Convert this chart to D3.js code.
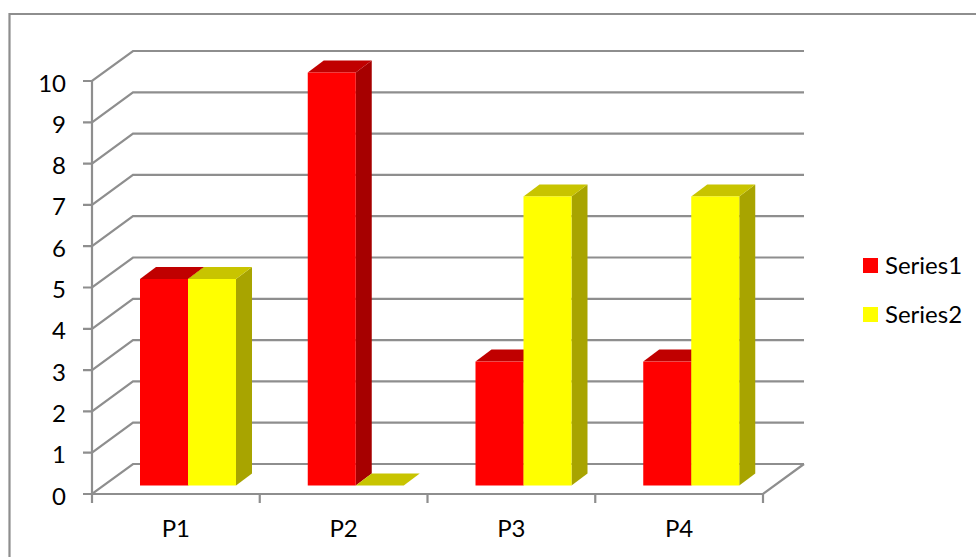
<!DOCTYPE html>
<html><head><meta charset="utf-8">
<script src="https://cdn.jsdelivr.net/npm/d3@7"></script>
<style>html,body{margin:0;padding:0;background:#fff}svg{display:block}text{font-family:Lato,"Open Sans",sans-serif;fill:#000}</style>
</head><body><svg id="c" width="976" height="557"></svg>
<script>
const categories=["P1","P2","P3","P4"];
const series1=[5,10,3,3];
const series2=[5,0,7,7];
const yTicks=[0,1,2,3,4,5,6,7,8,9,10];
const seriesNames=["Series1","Series2"];
const seriesColors=[{front:"#ff0000",top:"#c00000",side:"#a60000"},{front:"#ffff00",top:"#c8c400",side:"#a8a400"}];

const svg=d3.select("#c");
const grey="#8e8e8e";
const x=d3.scaleBand().domain(categories).range([92,763]);
const y=d3.scaleLinear().domain([0,10]).range([494,81]);
const wallDx=41,wallDy=-30;
const barW=48,barOffset=48,barDx=16,barDy=-12,baseShift=-8.5;
const poly=p=>p.map(d=>d.join(",")).join(" ");

// chart frame
svg.append("path").attr("d","M9.5,560V14H980").attr("fill","none").attr("stroke",grey).attr("stroke-width",2.2);

// walls and gridlines
const g=svg.append("g").attr("fill","none").attr("stroke",grey).attr("stroke-width",2.2);
yTicks.forEach(t=>{
  g.append("polyline").attr("points",poly([[83,y(t)],[92,y(t)],[92+wallDx,y(t)+wallDy],[804,y(t)+wallDy]]));
});
g.append("line").attr("x1",92).attr("x2",92).attr("y1",y(10)).attr("y2",y(0));
g.append("polyline").attr("points",poly([[92,y(0)],[763,y(0)],[804,y(0)+wallDy]]));
[...categories.map(c=>x(c)),x.range()[1]].forEach(v=>{
  g.append("line").attr("x1",v).attr("x2",v).attr("y1",y(0)).attr("y2",y(0)+9);
});

// bars
[series1,series2].forEach((vals,s)=>{
  const col=seriesColors[s];
  vals.forEach((v,i)=>{
    const x0=x(categories[i])+barOffset+s*barW, x1=x0+barW;
    const yb=y(0)+baseShift, yt=y(v)+baseShift;
    const b=svg.append("g");
    b.append("polygon").attr("fill",col.side).attr("points",poly([[x1,yb],[x1+barDx,yb+barDy],[x1+barDx,yt+barDy],[x1,yt]]));
    b.append("polygon").attr("fill",col.top).attr("points",poly([[x0,yt],[x0+barDx,yt+barDy],[x1+barDx,yt+barDy],[x1,yt]]));
    b.append("rect").attr("fill",col.front).attr("x",x0).attr("y",yt).attr("width",barW).attr("height",yb-yt);
  });
});

// axis labels
yTicks.forEach(t=>svg.append("text").attr("x",66).attr("y",y(t)+10.5).attr("text-anchor","end").attr("font-size",24).text(t));
categories.forEach(c=>svg.append("text").attr("x",x(c)+x.bandwidth()/2).attr("y",536.5).attr("text-anchor","middle").attr("font-size",24).text(c));

// legend
seriesNames.forEach((n,i)=>{
  svg.append("rect").attr("x",863).attr("y",258+i*49).attr("width",15).attr("height",15).attr("fill",seriesColors[i].front);
  svg.append("text").attr("x",885).attr("y",274+i*48.5).attr("font-size",24).text(n);
});
</script></body></html>
